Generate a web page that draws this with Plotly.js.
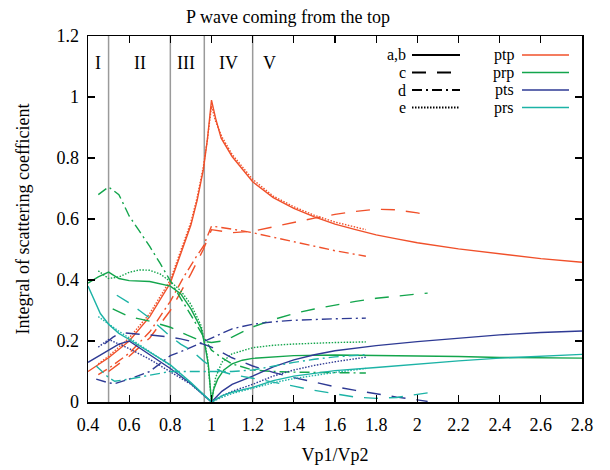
<!DOCTYPE html>
<html><head><meta charset="utf-8">
<script src="https://cdn.plot.ly/plotly-3.0.1.min.js"></script>
<style>html,body{margin:0;padding:0;background:#fff}</style>
</head><body><div id="chart" style="width:610px;height:470px"></div>
<script>
// ---- data ----
const seriesNames = ['ptp', 'prp', 'pts', 'prs'];
const styleNames = ['a,b', 'c', 'd', 'e'];

// ptp
const ptpSolidX = [0.4,0.5,0.6,0.7,0.8,0.87,0.9,0.93,0.96,0.98,1.0,1.02,1.047,1.1,1.2,1.3,1.4,1.5,1.6,1.7,1.8,1.9,2.0,2.2,2.4,2.6,2.8];
const ptpSolidY = [0.10,0.145,0.2,0.28,0.39,0.52,0.58,0.66,0.76,0.86,0.99,0.93,0.865,0.805,0.722,0.67,0.635,0.607,0.583,0.565,0.548,0.535,0.522,0.502,0.485,0.47,0.458];
const ptpDotX = [0.45,0.5,0.6,0.7,0.8,0.87,0.9,0.93,0.96,0.98,1.0,1.02,1.05,1.1,1.2,1.3,1.4,1.5,1.6,1.75];
const ptpDotY = [0.125,0.15,0.21,0.29,0.40,0.53,0.59,0.67,0.77,0.86,0.97,0.92,0.87,0.812,0.73,0.675,0.64,0.612,0.59,0.565];
const ptpDashX = [0.5,0.6,0.7,0.8,0.9,0.96,1.0,1.05,1.1,1.2,1.3,1.4,1.5,1.6,1.7,1.8,1.9,2.0,2.05];
const ptpDashY = [0.10,0.15,0.21,0.30,0.42,0.50,0.565,0.56,0.555,0.56,0.575,0.59,0.603,0.615,0.625,0.632,0.63,0.62,0.613];
const ptpDashDotX = [0.45,0.5,0.6,0.7,0.8,0.865,0.92,0.96,1.0,1.05,1.1,1.2,1.3,1.4,1.5,1.6,1.75];
const ptpDashDotY = [0.09,0.11,0.16,0.23,0.33,0.41,0.47,0.51,0.577,0.573,0.567,0.555,0.54,0.525,0.509,0.496,0.478];

// prp
const prpSolidX = [0.4,0.45,0.5,0.55,0.6,0.7,0.8,0.85,0.9,0.95,0.97,0.985,1.0,1.01,1.03,1.06,1.1,1.15,1.2,1.3,1.4,1.6,1.8,2.0,2.2,2.4,2.6,2.8];
const prpSolidY = [0.39,0.41,0.426,0.405,0.398,0.395,0.38,0.355,0.305,0.24,0.18,0.12,0.0,0.04,0.075,0.105,0.125,0.137,0.143,0.148,0.152,0.154,0.153,0.151,0.149,0.146,0.145,0.144];
const prpDotX = [0.45,0.5,0.55,0.6,0.65,0.7,0.75,0.8,0.85,0.9,0.95,0.98,1.0,1.02,1.05,1.1,1.2,1.3,1.4,1.5,1.6,1.75];
const prpDotY = [0.43,0.405,0.41,0.425,0.433,0.432,0.42,0.395,0.365,0.32,0.25,0.15,0.0,0.08,0.13,0.158,0.178,0.186,0.19,0.193,0.195,0.197];
const prpDashX = [0.52,0.6,0.7,0.8,0.88,0.95,1.0,1.05,1.1,1.2,1.3,1.4,1.5,1.6,1.7,1.8,1.9,2.0,2.05];
const prpDashY = [0.305,0.28,0.265,0.245,0.22,0.2,0.195,0.2,0.213,0.246,0.27,0.29,0.305,0.318,0.33,0.34,0.348,0.354,0.357];
const prpDashDotX = [0.45,0.5,0.55,0.6,0.65,0.7,0.75,0.8,0.85,0.9,0.96,1.0,1.05,1.1,1.2,1.3,1.4,1.5,1.6,1.75];
const prpDashDotY = [0.68,0.705,0.68,0.61,0.56,0.51,0.455,0.395,0.34,0.285,0.215,0.17,0.145,0.125,0.105,0.1,0.098,0.097,0.096,0.095];

// pts
const ptsSolidX = [0.4,0.45,0.5,0.55,0.6,0.7,0.8,0.9,1.0,1.05,1.1,1.2,1.3,1.4,1.5,1.6,1.8,2.0,2.2,2.4,2.6,2.8];
const ptsSolidY = [0.13,0.15,0.168,0.19,0.2,0.155,0.11,0.06,0.0,0.035,0.058,0.085,0.115,0.138,0.155,0.168,0.185,0.198,0.21,0.22,0.228,0.233];
const ptsDotX = [0.45,0.5,0.55,0.6,0.7,0.8,0.9,1.0,1.05,1.1,1.2,1.3,1.4,1.5,1.6,1.75];
const ptsDotY = [0.18,0.205,0.19,0.175,0.14,0.1,0.058,0.0,0.02,0.035,0.058,0.085,0.105,0.12,0.132,0.147];
const ptsDashX = [0.48,0.52,0.56,0.6,0.65,0.7,0.75,0.8,0.85,0.9,0.96,1.0,1.05,1.1,1.2,1.3,1.4,1.5,1.6,1.7,1.8,1.9,2.0,2.05];
const ptsDashY = [0.19,0.212,0.228,0.225,0.222,0.22,0.217,0.213,0.207,0.2,0.19,0.18,0.163,0.145,0.118,0.097,0.08,0.064,0.05,0.038,0.026,0.016,0.007,0.002];
const ptsDashDotX = [0.44,0.5,0.53,0.6,0.7,0.8,0.87,0.96,1.0,1.04,1.1,1.2,1.3,1.4,1.5,1.6,1.75];
const ptsDashDotY = [0.075,0.063,0.06,0.075,0.1,0.152,0.17,0.197,0.21,0.223,0.24,0.255,0.263,0.268,0.271,0.273,0.275];

// prs
const prsSolidX = [0.4,0.43,0.46,0.5,0.55,0.6,0.7,0.8,0.9,1.0,1.05,1.1,1.2,1.3,1.4,1.5,1.6,1.8,2.0,2.2,2.4,2.6,2.8];
const prsSolidY = [0.38,0.335,0.29,0.255,0.225,0.205,0.163,0.122,0.064,0.0,0.02,0.032,0.048,0.07,0.085,0.095,0.103,0.113,0.125,0.135,0.144,0.151,0.156];
const prsDotX = [0.45,0.5,0.55,0.6,0.7,0.8,0.9,1.0,1.05,1.1,1.2,1.3,1.4,1.5,1.6,1.75];
const prsDotY = [0.28,0.255,0.232,0.21,0.165,0.12,0.06,0.0,0.015,0.028,0.045,0.063,0.077,0.088,0.097,0.11];
const prsDashX = [0.54,0.6,0.65,0.7,0.75,0.8,0.85,0.9,0.96,1.0,1.05,1.1,1.2,1.3,1.4,1.5,1.6,1.7,1.8,1.9,2.0,2.05];
const prsDashY = [0.35,0.325,0.3,0.275,0.245,0.215,0.19,0.17,0.135,0.115,0.1,0.09,0.078,0.066,0.052,0.038,0.026,0.016,0.012,0.015,0.025,0.03];
const prsDashDotX = [0.44,0.5,0.53,0.6,0.7,0.8,0.9,1.0,1.1,1.2,1.3,1.4,1.5,1.6,1.75];
const prsDashDotY = [0.118,0.08,0.068,0.075,0.088,0.1,0.1,0.1,0.1,0.105,0.118,0.13,0.14,0.148,0.155];

const regionBounds = [0.5, 0.8, 0.965, 1.2];
const regionLabels = ['I', 'II', 'III', 'IV', 'V'];
const regionLabelX = [0.45, 0.655, 0.878, 1.083, 1.28];
const regionLabelY = 1.11;

const xTickVals = [0.4,0.6,0.8,1.0,1.2,1.4,1.6,1.8,2.0,2.2,2.4,2.6,2.8];
const xTickText = ['0.4','0.6','0.8','1','1.2','1.4','1.6','1.8','2','2.2','2.4','2.6','2.8'];
const yTickVals = [0,0.2,0.4,0.6,0.8,1.0,1.2];
const yTickText = ['0','0.2','0.4','0.6','0.8','1','1.2'];

// ---- styles ----
const colors = {ptp:'#f0502a', prp:'#13a54c', pts:'#2e3a94', prs:'#1cb3a6'};
const dashes = {'a,b':'solid', 'c':'14px,11px', 'd':'10px,4px,2px,4px', 'e':'1.5px,1.5px'};
const FONT = 'Liberation Serif';

const data = [
  ['ptp','a,b',ptpSolidX,ptpSolidY],['ptp','e',ptpDotX,ptpDotY],['ptp','c',ptpDashX,ptpDashY],['ptp','d',ptpDashDotX,ptpDashDotY],
  ['prp','a,b',prpSolidX,prpSolidY],['prp','e',prpDotX,prpDotY],['prp','c',prpDashX,prpDashY],['prp','d',prpDashDotX,prpDashDotY],
  ['pts','a,b',ptsSolidX,ptsSolidY],['pts','e',ptsDotX,ptsDotY],['pts','c',ptsDashX,ptsDashY],['pts','d',ptsDashDotX,ptsDashDotY],
  ['prs','a,b',prsSolidX,prsSolidY],['prs','e',prsDotX,prsDotY],['prs','c',prsDashX,prsDashY],['prs','d',prsDashDotX,prsDashDotY]
];

const traces = data.map(([s, st, xs, ys]) => ({
  x: xs, y: ys, type: 'scatter', mode: 'lines', name: s + ' ' + st,
  line: {color: colors[s], width: 1.4, dash: dashes[st]}, showlegend: false, hoverinfo: 'skip'
}));

// plot area in pixels
const L = 88, R = 28, T = 36, B = 68, W = 610, H = 470;
const pw = W - L - R, ph = H - T - B;
const px2x = p => (p - L) / pw;
const py2y = p => (H - B - p) / ph;

const shapes = regionBounds.map(v => ({
  type: 'line', xref: 'x', yref: 'paper', x0: v, x1: v, y0: 0, y1: 1,
  line: {color: '#9a9a9a', width: 1.5}, layer: 'below'
}));

const annotations = regionLabels.map((t, i) => ({
  text: t, x: regionLabelX[i], y: regionLabelY, xref: 'x', yref: 'y',
  showarrow: false, font: {family: FONT, size: 18, color: '#000'}
}));

// custom legend
const rowsY = [55, 72.5, 90, 107.5];
styleNames.forEach((st, i) => {
  annotations.push({text: st, xref: 'paper', yref: 'paper', x: px2x(408), y: py2y(rowsY[i]),
    xanchor: 'right', yanchor: 'middle', showarrow: false, font: {family: FONT, size: 16, color: '#000'}});
  shapes.push({type: 'line', xref: 'paper', yref: 'paper', x0: px2x(412), x1: px2x(460),
    y0: py2y(rowsY[i]), y1: py2y(rowsY[i]), line: {color: '#000', width: 2, dash: dashes[st]}});
});
seriesNames.forEach((s, i) => {
  annotations.push({text: s, xref: 'paper', yref: 'paper', x: px2x(516), y: py2y(rowsY[i]),
    xanchor: 'right', yanchor: 'middle', showarrow: false, font: {family: FONT, size: 16, color: '#000'}});
  shapes.push({type: 'line', xref: 'paper', yref: 'paper', x0: px2x(522), x1: px2x(569),
    y0: py2y(rowsY[i]), y1: py2y(rowsY[i]), line: {color: colors[s], width: 1.6}});
});

const axisCommon = {
  showline: true, linecolor: '#000', linewidth: 1.5, mirror: 'allticks',
  ticks: 'inside', ticklen: 7, tickwidth: 1.3, tickcolor: '#000',
  showgrid: false, zeroline: false,
  tickfont: {family: FONT, size: 18, color: '#000'}
};

const layout = {
  width: W, height: H,
  margin: {l: L, r: R, t: T, b: B},
  paper_bgcolor: '#fff', plot_bgcolor: '#fff',
  font: {family: FONT},
  title: {text: 'P wave coming from the top', font: {family: FONT, size: 18, color: '#000'},
    x: 288 / W, xanchor: 'center', y: 1 - 17 / H, yanchor: 'middle', xref: 'container', yref: 'container'},
  xaxis: Object.assign({}, axisCommon, {range: [0.4, 2.8], tickvals: xTickVals, ticktext: xTickText,
    ticklabelstandoff: 6,
    title: {text: 'Vp1/Vp2', font: {family: FONT, size: 18, color: '#000'}, standoff: 14}}),
  yaxis: Object.assign({}, axisCommon, {range: [0, 1.2], tickvals: yTickVals, ticktext: yTickText,
    ticklabelstandoff: 4,
    title: {text: 'Integral of scattering coefficient', font: {family: FONT, size: 18, color: '#000'}, standoff: 22}}),
  shapes: shapes, annotations: annotations
};

Plotly.newPlot('chart', traces, layout, {displayModeBar: false, staticPlot: true});
</script></body></html>
